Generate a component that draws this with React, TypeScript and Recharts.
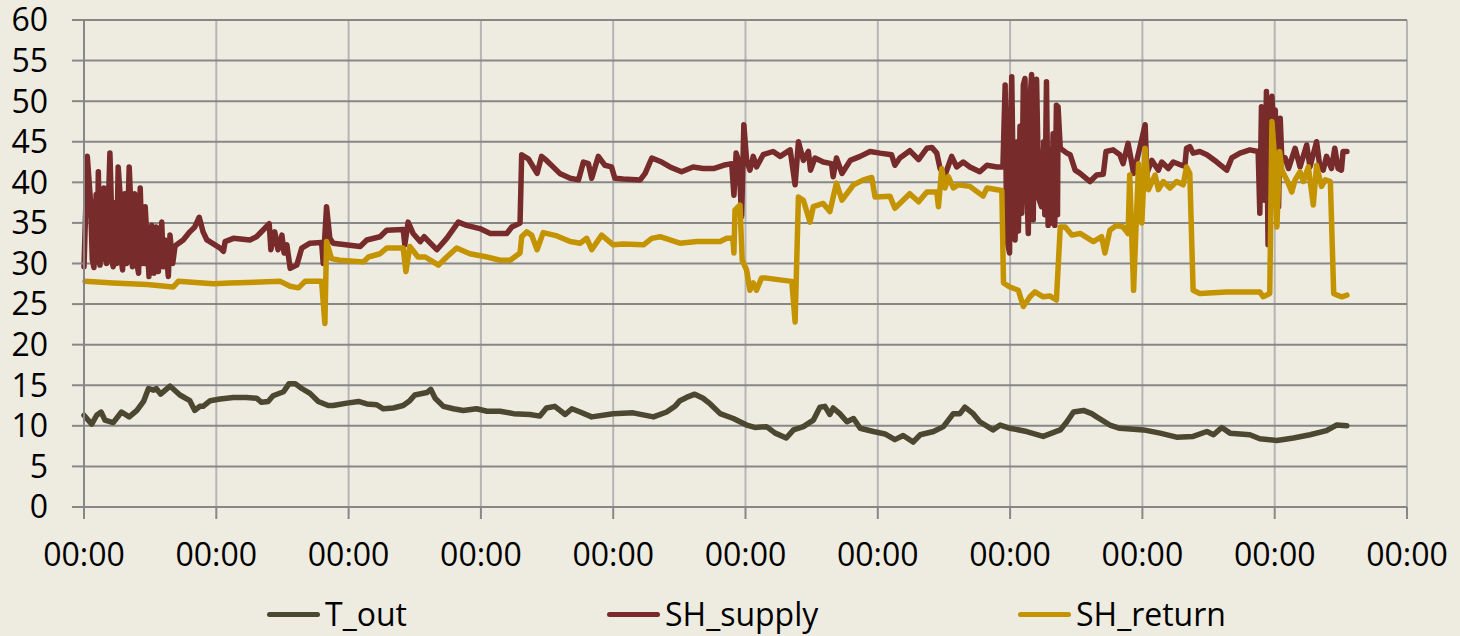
import { LineChart, Line, XAxis, YAxis, CartesianGrid, Legend } from "recharts";

// [hour, °C] readings
const T_OUT: [number, number][] = [
  [0, 11.3], [1.4, 10.2], [2.3, 11.3], [3.1, 11.7], [3.8, 10.7], [5.3, 10.4], [6.8, 11.7], [8.2, 11.1], [9.6, 11.9], [10.8, 13.0],
  [11.7, 14.6], [12.6, 14.4], [13.1, 14.6], [13.9, 13.9], [15.6, 14.9], [17.4, 13.8], [19.2, 13.1], [20.1, 11.9], [21.0, 12.4], [21.6, 12.4],
  [22.9, 13.1], [24.7, 13.3], [27.1, 13.5], [29.5, 13.5], [31.3, 13.4], [32.2, 12.9], [33.4, 13.0], [34.3, 13.7], [36.2, 14.2], [37.2, 15.2],
  [38.3, 15.2], [39.5, 14.6], [41.0, 14.0], [42.5, 13.0], [44.3, 12.5], [45.2, 12.5], [47.7, 12.8], [49.8, 13.0], [51.3, 12.7], [53.1, 12.6],
  [54.3, 12.1], [56.1, 12.2], [57.9, 12.5], [59.1, 13.1], [60.0, 13.8], [62.2, 14.1], [62.9, 14.5], [63.7, 13.4], [65.2, 12.4], [67.0, 12.1],
  [68.8, 11.9], [71.2, 12.1], [73.1, 11.8], [75.5, 11.8], [77.9, 11.5], [80.9, 11.4], [82.7, 11.2], [83.9, 12.2], [85.4, 12.4], [87.3, 11.4],
  [88.5, 12.1], [90.0, 11.7], [92.1, 11.1], [96.0, 11.5], [99.6, 11.6], [103.3, 11.1], [105.7, 11.7], [107.2, 12.4], [108.1, 13.1], [109.3, 13.5],
  [110.8, 13.9], [112.3, 13.4], [113.6, 12.7], [115.4, 11.5], [117.8, 10.9], [120.2, 10.1], [121.7, 9.8], [123.8, 9.9], [125.4, 9.1], [127.4, 8.5],
  [128.7, 9.5], [130.5, 9.9], [132.3, 10.7], [133.5, 12.3], [134.4, 12.4], [135.3, 11.4], [135.9, 12.2], [137.1, 11.5], [138.4, 10.5], [139.6, 10.9],
  [140.8, 9.7], [143.2, 9.3], [145.3, 9.0], [147.1, 8.3], [148.6, 8.8], [150.4, 8.0], [151.7, 8.9], [154.1, 9.3], [155.9, 9.9], [157.7, 11.5],
  [158.9, 11.5], [159.8, 12.3], [161.3, 11.5], [162.5, 10.5], [164.9, 9.5], [166.2, 10.1], [168.0, 9.7], [171.0, 9.3], [174.0, 8.7], [177.1, 9.5],
  [178.3, 10.5], [179.5, 11.7], [181.3, 11.9], [182.8, 11.5], [183.7, 11.1], [186.1, 10.1], [187.9, 9.7], [192.2, 9.5], [195.2, 9.1], [198.2, 8.6],
  [201.2, 8.7], [203.7, 9.3], [204.9, 8.9], [206.4, 9.8], [207.9, 9.1], [211.5, 8.9], [213.3, 8.4], [216.4, 8.2], [219.4, 8.5], [222.4, 8.9],
  [225.4, 9.4], [227.2, 10.1], [229.1, 10.0],
];

const SH_SUPPLY: [number, number][] = [
  [0, 29.6], [0.6, 43.2], [1.2, 37.5], [1.5, 30.5], [1.8, 29.5], [2.2, 38.5], [2.4, 30.2], [2.6, 41.3], [2.9, 29.8], [3.3, 36.5],
  [3.4, 30.5], [3.6, 39.3], [4.1, 30.0], [4.7, 43.6], [5.0, 36.5], [5.1, 30.2], [5.3, 29.6], [5.7, 37.5], [5.9, 30.0], [6.2, 41.9],
  [6.6, 38.0], [6.8, 30.2], [7.0, 29.2], [7.4, 38.6], [7.7, 30.0], [8.2, 41.9], [8.5, 37.0], [8.6, 30.5], [8.8, 29.6], [9.2, 38.6],
  [9.5, 36.0], [9.6, 30.0], [9.9, 28.8], [10.2, 39.3], [10.6, 30.0], [10.9, 35.5], [11.0, 30.0], [11.1, 37.0], [11.8, 28.4], [12.0, 33.5],
  [12.1, 29.2], [12.3, 34.7], [12.7, 28.8], [13.1, 34.5], [13.5, 29.0], [14.1, 35.1], [14.4, 29.6], [14.7, 32.9], [15.3, 28.4], [15.6, 33.5],
  [16.1, 30.0], [16.5, 32.1], [16.8, 32.3], [18.0, 32.9], [19.2, 33.9], [20.1, 34.5], [20.9, 35.7], [21.6, 33.9], [22.3, 32.9], [24.7, 31.9],
  [25.3, 31.5], [25.6, 32.7], [27.1, 33.1], [30.1, 32.9], [31.3, 33.3], [33.6, 34.9], [33.9, 31.7], [34.6, 33.9], [35.2, 31.7], [35.9, 33.5],
  [36.3, 31.3], [36.8, 32.3], [37.4, 29.4], [38.6, 29.8], [39.5, 31.9], [41.0, 32.5], [43.1, 32.6], [43.4, 30.0], [44.0, 37.0], [44.6, 33.1],
  [45.2, 32.5], [50.1, 32.1], [51.3, 32.9], [53.7, 33.3], [54.9, 34.1], [57.9, 34.2], [58.2, 32.3], [58.8, 35.1], [59.7, 33.7], [61.0, 32.7],
  [61.7, 33.3], [64.0, 31.7], [65.8, 33.1], [67.9, 35.1], [69.4, 34.7], [71.8, 34.3], [73.7, 33.7], [76.7, 33.7], [77.6, 34.5], [79.1, 35.0],
  [79.4, 43.4], [80.6, 42.9], [82.2, 41.1], [83.0, 43.2], [83.9, 42.7], [85.1, 41.9], [86.3, 41.1], [88.2, 40.5], [89.7, 40.3], [90.6, 42.5],
  [91.5, 42.3], [92.1, 40.5], [93.3, 43.2], [94.5, 42.1], [95.7, 41.9], [96.3, 40.5], [97.8, 40.4], [100.9, 40.3], [101.8, 41.1], [103.0, 43.0],
  [104.8, 42.5], [106.3, 41.9], [108.4, 41.3], [110.5, 41.9], [112.3, 41.7], [114.2, 41.7], [116.0, 42.1], [117.5, 42.3], [117.9, 38.4], [118.3, 43.6],
  [118.8, 42.5], [119.3, 35.8], [119.7, 47.1], [120.2, 42.7], [120.8, 41.5], [121.4, 43.2], [122.0, 41.9], [123.2, 43.4], [125.0, 43.8], [126.3, 43.2],
  [128.1, 44.0], [129.0, 39.7], [129.6, 45.0], [130.5, 42.7], [131.4, 43.8], [131.8, 41.5], [132.6, 43.0], [134.1, 42.5], [135.6, 42.3], [135.9, 40.7],
  [136.5, 43.0], [137.5, 41.1], [139.0, 42.7], [140.8, 43.2], [142.6, 43.8], [144.4, 43.6], [146.5, 43.4], [147.1, 42.1], [148.0, 43.0], [149.8, 43.9],
  [151.4, 42.8], [152.9, 44.2], [153.8, 44.3], [154.7, 43.6], [155.3, 41.7], [156.2, 40.9], [157.4, 43.2], [158.3, 41.9], [159.5, 42.5], [160.7, 41.9],
  [162.5, 41.3], [163.8, 42.1], [165.6, 41.9], [166.5, 41.9], [166.7, 42.0], [167.1, 52.0], [167.4, 33.0], [167.9, 31.3], [168.1, 48.0], [168.3, 53.0],
  [168.6, 38.0], [168.9, 32.9], [169.3, 45.0], [169.5, 34.0], [169.8, 46.9], [170.1, 36.2], [170.4, 52.0], [170.7, 52.8], [171.0, 40.0], [171.3, 33.7],
  [171.6, 50.0], [171.9, 53.3], [172.2, 35.4], [172.4, 48.0], [172.8, 52.7], [173.2, 38.0], [173.7, 37.0], [174.1, 45.0], [174.3, 36.0], [174.6, 52.4],
  [174.9, 34.7], [175.2, 44.0], [175.5, 35.0], [175.8, 46.0], [176.1, 34.7], [176.4, 49.5], [176.6, 36.0], [176.7, 49.3], [177.1, 44.2], [178.3, 43.6],
  [178.9, 43.4], [179.8, 41.5], [180.7, 41.1], [182.5, 40.1], [183.7, 40.9], [184.9, 41.0], [185.4, 43.8], [186.7, 44.0], [187.9, 43.4], [188.5, 42.3],
  [189.4, 44.8], [190.1, 42.3], [190.4, 41.1], [191.3, 43.6], [192.5, 47.1], [192.8, 41.1], [193.7, 42.7], [194.9, 41.5], [195.5, 42.5], [196.7, 41.7],
  [197.6, 42.5], [199.1, 42.1], [199.7, 42.0], [200.0, 44.2], [200.6, 44.4], [201.2, 43.6], [202.4, 43.8], [203.7, 43.4], [205.5, 42.5], [207.3, 41.5],
  [208.2, 43.0], [209.7, 43.6], [211.5, 44.0], [213.0, 43.8], [213.3, 36.2], [213.6, 49.3], [214.2, 37.8], [214.5, 51.2], [214.8, 32.3], [215.1, 49.0],
  [215.5, 50.6], [215.8, 46.0], [216.1, 48.9], [216.7, 37.0], [217.0, 47.9], [217.3, 42.7], [217.9, 43.0], [218.5, 41.7], [219.7, 44.2], [220.6, 41.9],
  [221.8, 44.6], [222.4, 41.9], [223.6, 45.0], [224.2, 41.9], [224.8, 41.5], [225.4, 43.2], [226.3, 41.7], [226.9, 44.2], [227.5, 41.7], [228.1, 41.5],
  [228.4, 43.8], [229.1, 43.8],
];

const SH_RETURN: [number, number][] = [
  [0.2, 27.8], [5.3, 27.6], [11.4, 27.4], [16.2, 27.1], [17.1, 27.8], [23.5, 27.5], [26.5, 27.6], [35.6, 27.8], [37.4, 27.2], [38.9, 27.0],
  [40.1, 27.8], [43.1, 27.8], [43.7, 22.6], [44.0, 32.7], [44.9, 30.6], [46.4, 30.4], [50.7, 30.2], [51.6, 30.8], [53.7, 31.2], [54.9, 31.9],
  [57.9, 31.9], [58.4, 29.0], [59.1, 32.1], [60.6, 30.8], [61.9, 30.8], [64.3, 29.8], [65.8, 30.8], [67.6, 31.9], [70.0, 31.2], [73.1, 30.8],
  [75.5, 30.4], [77.3, 30.4], [79.1, 31.3], [79.4, 33.3], [80.3, 33.9], [81.2, 33.5], [82.2, 31.7], [83.3, 33.8], [85.8, 33.4], [88.2, 32.7],
  [90.0, 32.5], [91.2, 33.1], [92.1, 31.7], [93.9, 33.5], [96.0, 32.3], [97.8, 32.4], [101.5, 32.3], [103.0, 33.1], [104.5, 33.3], [108.1, 32.5],
  [111.2, 32.7], [115.4, 32.7], [116.6, 33.1], [117.7, 33.1], [117.9, 31.3], [118.1, 36.6], [119.0, 37.2], [119.4, 30.4], [120.2, 29.2], [120.8, 26.7],
  [121.4, 27.6], [122.0, 26.7], [122.9, 28.2], [123.8, 28.2], [128.4, 27.8], [129.0, 22.8], [129.6, 38.2], [130.5, 37.8], [131.7, 35.1], [132.3, 37.0],
  [134.1, 37.4], [135.3, 36.4], [136.5, 39.9], [137.5, 37.8], [139.6, 39.7], [141.4, 40.3], [142.9, 40.6], [143.5, 38.2], [146.2, 38.3], [147.1, 36.8],
  [149.8, 38.6], [151.4, 37.6], [152.9, 38.8], [154.7, 38.8], [155.0, 37.0], [155.6, 41.7], [156.2, 39.3], [156.8, 40.7], [157.7, 39.3], [158.6, 39.7],
  [160.7, 39.5], [163.1, 38.3], [163.8, 39.3], [166.5, 39.0], [166.8, 27.6], [168.0, 27.1], [169.5, 26.7], [170.4, 24.7], [171.6, 25.9], [172.5, 26.5],
  [174.0, 25.9], [175.2, 26.0], [176.4, 25.5], [177.1, 34.5], [178.0, 34.5], [179.2, 33.5], [180.7, 33.7], [183.1, 32.7], [184.6, 33.3], [185.2, 31.3],
  [186.1, 34.1], [187.3, 34.7], [188.5, 34.5], [189.4, 33.7], [189.7, 40.9], [190.4, 26.7], [191.3, 42.3], [191.9, 35.0], [192.5, 44.2], [193.1, 39.1],
  [194.3, 40.9], [194.9, 39.1], [195.8, 40.1], [197.0, 39.3], [198.2, 40.1], [199.4, 39.7], [200.0, 41.9], [200.6, 41.1], [201.2, 26.7], [202.4, 26.3],
  [207.3, 26.5], [213.3, 26.5], [213.9, 25.9], [215.1, 26.3], [215.5, 47.5], [216.1, 41.9], [216.4, 34.5], [216.9, 43.8], [217.3, 41.5], [218.2, 40.3],
  [219.1, 38.8], [219.7, 40.3], [220.6, 41.3], [221.2, 40.1], [222.1, 41.9], [223.0, 37.2], [223.6, 42.1], [224.5, 39.5], [225.2, 40.3], [226.1, 40.1],
  [226.7, 26.3], [227.3, 26.1], [228.2, 25.9], [229.1, 26.1],
];

const X_TICKS = [0, 24, 48, 72, 96, 120, 144, 168, 192, 216, 240];
const Y_TICKS = [0, 5, 10, 15, 20, 25, 30, 35, 40, 45, 50, 55, 60];

const SERIES = [
  { name: "T_out", color: "#4C4731", points: T_OUT },
  { name: "SH_supply", color: "#772B2A", points: SH_SUPPLY },
  { name: "SH_return", color: "#C49300", points: SH_RETURN },
];

const FONT = '"Open Sans", "DejaVu Sans", sans-serif';
const LEGEND_LEFT = [267, 607, 1018];

function ChartLegend() {
  return (
    <div style={{ position: "relative", width: 1407, height: 52 }}>
      {SERIES.map((s, i) => (
        <div
          key={s.name}
          style={{
            position: "absolute",
            left: LEGEND_LEFT[i],
            top: 14,
            height: 32,
            display: "flex",
            alignItems: "center",
          }}
        >
          <span style={{ display: "inline-block", width: 53, height: 5, borderRadius: 3, background: s.color }} />
          <span style={{ marginLeft: 5, fontSize: 32, lineHeight: "32px", fontFamily: FONT, color: "#000" }}>
            {s.name}
          </span>
        </div>
      ))}
    </div>
  );
}

export default function App() {
  const tick = { fill: "#000", fontSize: 32, fontFamily: FONT };
  const axisStroke = { stroke: "#878787", strokeWidth: 2 };

  return (
    <div style={{ width: 1460, height: 636, background: "#EEECE1" }}>
      <style>{"body{margin:0}"}</style>
      <LineChart width={1460} height={636} margin={{ top: 20, right: 53, left: 0, bottom: 0 }}>
        <CartesianGrid horizontal={false} stroke="#B5B5B5" strokeWidth={2} />
        <CartesianGrid vertical={false} stroke="#878787" strokeWidth={2} />
        <XAxis
          type="number"
          dataKey="h"
          domain={[0, 240]}
          ticks={X_TICKS}
          interval={0}
          tickFormatter={() => "00:00"}
          height={77}
          tickSize={12}
          tickMargin={24}
          tick={tick}
          axisLine={axisStroke}
          tickLine={axisStroke}
        />
        <YAxis
          type="number"
          domain={[0, 60]}
          ticks={Y_TICKS}
          interval={0}
          width={84}
          tickSize={12}
          tickMargin={24}
          tick={tick}
          axisLine={axisStroke}
          tickLine={axisStroke}
        />
        <Legend verticalAlign="bottom" content={() => <ChartLegend />} />
        {SERIES.map((s) => (
          <Line
            key={s.name}
            name={s.name}
            data={s.points.map(([h, v]) => ({ h, v }))}
            dataKey="v"
            type="linear"
            stroke={s.color}
            strokeWidth={5.5}
            strokeLinejoin="round"
            strokeLinecap="round"
            dot={false}
            activeDot={false}
            isAnimationActive={false}
          />
        ))}
      </LineChart>
    </div>
  );
}
